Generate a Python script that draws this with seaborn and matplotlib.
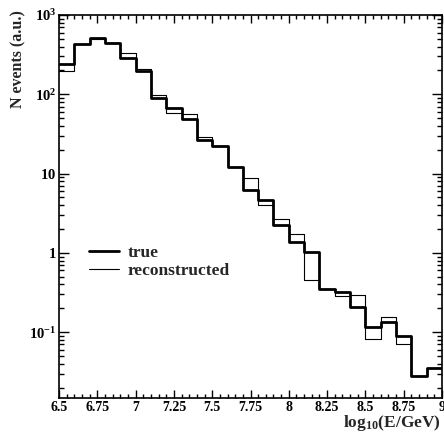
import numpy as np
import pandas as pd
import seaborn as sns
import matplotlib
matplotlib.use("Agg")
import matplotlib.pyplot as plt
from matplotlib.ticker import FixedLocator, FixedFormatter, MultipleLocator, LogLocator, NullFormatter
from matplotlib.lines import Line2D

# ---- data ----
bin_edges = [6.5 + 0.1 * i for i in range(26)]
true_counts = [244, 436, 508, 443, 290, 197, 91, 68, 49, 26.9, 22, 12.1, 6.15,
               4.7, 2.23, 1.39, 1.04, 0.355, 0.323, 0.208, 0.116, 0.135, 0.089, 0.028, 0.0354]
reco_counts = [195, 430, 494, 440, 332, 206, 98, 58, 57, 29, 22, 12.1, 8.8,
               4.06, 2.65, 1.75, 0.45, 0.355, 0.287, 0.298, 0.082, 0.156, 0.070, 0.028, 0.0354]
series_labels = ["true", "reconstructed"]
x_tick_values = [6.5, 6.75, 7, 7.25, 7.5, 7.75, 8, 8.25, 8.5, 8.75, 9]
x_tick_labels = ["6.5", "6.75", "7", "7.25", "7.5", "7.75", "8", "8.25", "8.5", "8.75", "9"]
y_tick_values = [0.1, 1, 10, 100, 1000]
y_tick_labels = [r"$\mathbf{10}^{\mathbf{-1}}$", r"$\mathbf{1}\hspace{0.7}$", r"$\mathbf{10}\hspace{0.7}$",
                 r"$\mathbf{10}^{\mathbf{2}}$", r"$\mathbf{10}^{\mathbf{3}}$"]

sns.set_theme(style="ticks")
plt.rcParams["font.family"] = ["Liberation Serif", "DejaVu Serif"]
plt.rcParams["font.weight"] = "bold"
plt.rcParams["mathtext.fontset"] = "custom"
plt.rcParams["mathtext.rm"] = "Liberation Serif:bold"
plt.rcParams["mathtext.bf"] = "Liberation Serif:bold"
plt.rcParams["mathtext.it"] = "Liberation Serif:italic:bold"

centers = [(bin_edges[i] + bin_edges[i + 1]) / 2 for i in range(len(true_counts))]
df = pd.DataFrame({
    "x": centers * 2,
    "w": true_counts + reco_counts,
    "series": [series_labels[0]] * len(true_counts) + [series_labels[1]] * len(reco_counts),
})

fig = plt.figure(figsize=(4.44, 4.34), dpi=100)
ax = fig.add_axes([59 / 444, 1 - 398 / 434, 383 / 444, 383 / 434])
ax.set_yscale("log")

sns.histplot(data=df[df.series == "reconstructed"], x="x", weights="w", bins=bin_edges,
             element="step", fill=False, color="black", linewidth=0.8, ax=ax)
sns.histplot(data=df[df.series == "true"], x="x", weights="w", bins=bin_edges,
             element="step", fill=False, color="black", linewidth=2.0, ax=ax)

ax.set_xlim(6.5, 9)
ax.set_ylim(10 ** -1.83, 1000)

ax.xaxis.set_major_locator(FixedLocator(x_tick_values))
ax.xaxis.set_major_formatter(FixedFormatter(x_tick_labels))
ax.xaxis.set_minor_locator(MultipleLocator(0.05))
ax.yaxis.set_major_locator(FixedLocator(y_tick_values))
ax.yaxis.set_major_formatter(FixedFormatter(y_tick_labels))
ax.yaxis.set_minor_locator(LogLocator(base=10, subs=np.arange(2, 10)))
ax.yaxis.set_minor_formatter(NullFormatter())

ax.tick_params(which="both", direction="in", top=True, right=True, width=1.0, colors="black")
ax.tick_params(axis="x", which="major", length=6, labelsize=10, pad=2.5)
ax.tick_params(axis="x", which="minor", length=3)
ax.tick_params(axis="y", which="major", length=7, labelsize=10.5, pad=2)
ax.tick_params(axis="y", which="minor", length=3.5)
for lab in ax.get_xticklabels():
    lab.set_fontweight("bold")

for s in ax.spines.values():
    s.set_linewidth(1.2)
    s.set_color("black")

ax.set_xlabel(r"log$_{\mathbf{10}}$(E/GeV)", fontsize=12.5, fontweight="bold")
ax.xaxis.set_label_coords(0.998, -0.076)
ax.xaxis.label.set_ha("right")
ax.xaxis.label.set_va("baseline")
ax.set_ylabel("N events (a.u.)", fontsize=11.5, fontweight="bold")
ax.yaxis.set_label_coords(-0.107, 1.013)
ax.yaxis.label.set_ha("right")
ax.yaxis.label.set_va("center")

handles = [Line2D([], [], color="black", lw=2.0), Line2D([], [], color="black", lw=0.8)]
ax.legend(handles, series_labels, loc="center left", bbox_to_anchor=(0.078, 0.355),
          frameon=False, prop={"family": "Liberation Serif", "weight": "bold", "size": 12.5},
          borderpad=0, borderaxespad=0, handlelength=1.75, handletextpad=0.5, labelspacing=0.1)

fig.savefig("out.png", dpi=100)
